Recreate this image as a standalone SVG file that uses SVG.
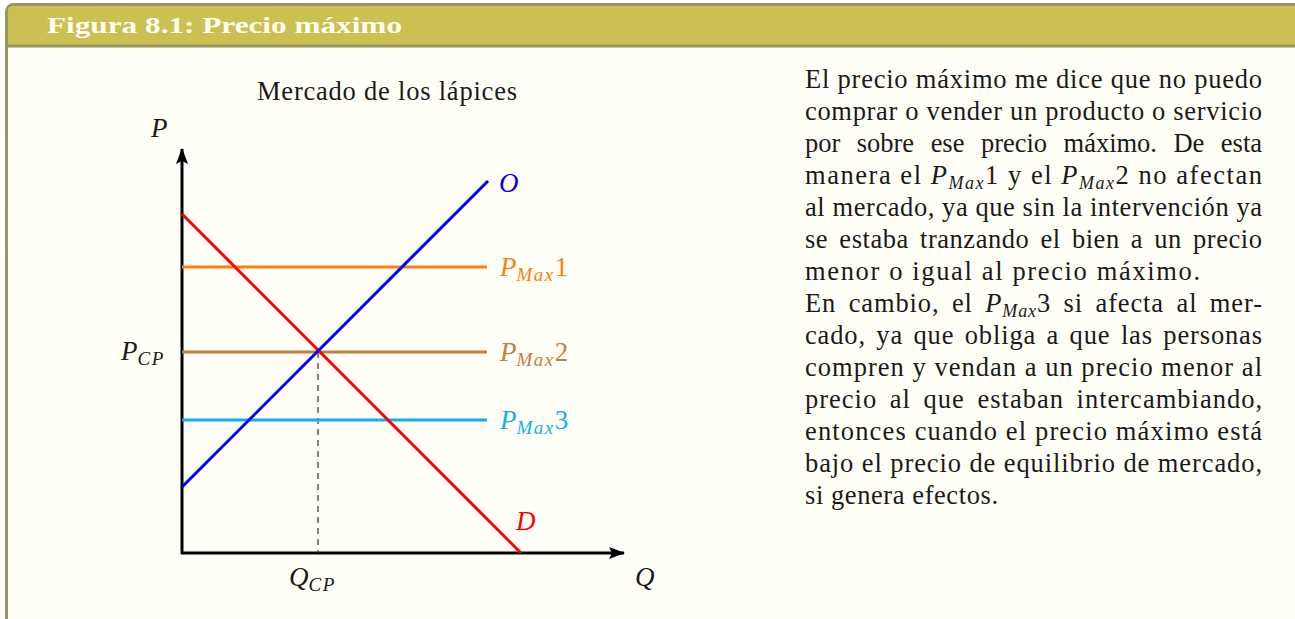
<svg xmlns="http://www.w3.org/2000/svg" width="1295" height="619" viewBox="0 0 1295 619">
<style>
.t{font-family:"Liberation Serif","DejaVu Serif",serif;font-size:26.5px;fill:#1a1a1a}
.m{font-family:"Liberation Serif","DejaVu Serif",serif;font-size:27px;font-style:italic}
.s{font-size:19px;font-style:italic;letter-spacing:1.5px}
.u{font-style:normal}
.ln{fill:none;stroke-width:3}
</style>
<defs>
<marker id="ah" viewBox="0 0 16 12" refX="15" refY="6" markerWidth="16" markerHeight="12" markerUnits="userSpaceOnUse" orient="auto">
<path d="M0,0 L16,6 L0,12 L3,6 Z" fill="#000"/>
</marker>
</defs>
<rect width="1295" height="619" fill="#ffffff"/>
<g id="frame">
<rect x="6.5" y="4.5" width="1310" height="640" rx="7" fill="#fffff7" stroke="#999561" stroke-width="3"/>
<path d="M8,46 V11 Q8,6 14,6 H1295 V46 Z" fill="#cbc052"/>
<line x1="8" y1="46" x2="1295" y2="46" stroke="#999561" stroke-width="3"/>
<text x="47" y="33" font-family="'Liberation Serif','DejaVu Serif',serif" font-size="24" font-weight="bold" fill="#fffff2" textLength="355" lengthAdjust="spacingAndGlyphs">Figura 8.1: Precio máximo</text>
</g>
<g id="title-chart">
<text class="t" x="257" y="100" textLength="260" lengthAdjust="spacing">Mercado de los lápices</text>
</g>
<g id="connectors">
<line x1="182" y1="554" x2="182" y2="149" stroke="#000" stroke-width="3" marker-end="url(#ah)"/>
<line x1="181" y1="553" x2="624" y2="553" stroke="#000" stroke-width="3" marker-end="url(#ah)"/>
<line x1="318" y1="352" x2="318" y2="553" stroke="#333" stroke-width="1.2" stroke-dasharray="6,5"/>
<line class="ln" x1="182" y1="267" x2="487" y2="267" stroke="#ff8010"/>
<line class="ln" x1="182" y1="352" x2="487" y2="352" stroke="#c08040"/>
<line class="ln" x1="182" y1="420" x2="487" y2="420" stroke="#10b0ee"/>
<line class="ln" x1="182" y1="214" x2="521" y2="553" stroke="#ff0000"/>
<line class="ln" x1="182" y1="487" x2="488" y2="181" stroke="#0000ee"/>
</g>
<g id="labels">
<text class="m" x="151" y="137" fill="#1a1a1a">P</text>
<text class="m" x="121" y="360" fill="#1a1a1a">P<tspan class="s" dy="5">CP</tspan></text>
<text class="m" x="289" y="586" fill="#1a1a1a">Q<tspan class="s" dy="5">CP</tspan></text>
<text class="m" x="635" y="586" fill="#1a1a1a">Q</text>
<text class="m" x="499" y="192" fill="#0000ee">O</text>
<text class="m" x="516" y="530" fill="#ff0000">D</text>
<text class="m" x="500" y="276" fill="#ff8010">P<tspan class="s" dy="5">Max</tspan><tspan class="u" dy="-5">1</tspan></text>
<text class="m" x="500" y="361" fill="#c08040">P<tspan class="s" dy="5">Max</tspan><tspan class="u" dy="-5">2</tspan></text>
<text class="m" x="500" y="429" fill="#10b0ee">P<tspan class="s" dy="5">Max</tspan><tspan class="u" dy="-5">3</tspan></text>
</g>
<g id="paragraph">
<text class="t" x="805" y="88" textLength="457" lengthAdjust="spacing">El precio máximo me dice que no puedo</text>
<text class="t" x="805" y="120" textLength="457" lengthAdjust="spacing">comprar o vender un producto o servicio</text>
<text class="t" x="805" y="152" word-spacing="10" textLength="457" lengthAdjust="spacing">por sobre ese precio máximo. De esta</text>
<text class="t" x="805" y="184" textLength="457" lengthAdjust="spacing">manera el <tspan font-style="italic">P</tspan><tspan font-style="italic" font-size="18" dy="5">Max</tspan><tspan dy="-5">1 y el </tspan><tspan font-style="italic">P</tspan><tspan font-style="italic" font-size="18" dy="5">Max</tspan><tspan dy="-5">2 no afectan</tspan></text>
<text class="t" x="805" y="216" textLength="457" lengthAdjust="spacing">al mercado, ya que sin la intervención ya</text>
<text class="t" x="805" y="248" word-spacing="4" textLength="457" lengthAdjust="spacing">se estaba tranzando el bien a un precio</text>
<text class="t" x="805" y="280" textLength="395" lengthAdjust="spacing">menor o igual al precio máximo.</text>
<text class="t" x="805" y="312" word-spacing="5" textLength="457" lengthAdjust="spacing">En cambio, el <tspan font-style="italic">P</tspan><tspan font-style="italic" font-size="18" dy="5">Max</tspan><tspan dy="-5">3 si afecta al mer-</tspan></text>
<text class="t" x="805" y="344" word-spacing="3" textLength="457" lengthAdjust="spacing">cado, ya que obliga a que las personas</text>
<text class="t" x="805" y="376" textLength="457" lengthAdjust="spacing">compren y vendan a un precio menor al</text>
<text class="t" x="805" y="408" word-spacing="5" textLength="457" lengthAdjust="spacing">precio al que estaban intercambiando,</text>
<text class="t" x="805" y="440" textLength="457" lengthAdjust="spacing">entonces cuando el precio máximo está</text>
<text class="t" x="805" y="472" textLength="457" lengthAdjust="spacing">bajo el precio de equilibrio de mercado,</text>
<text class="t" x="805" y="504" textLength="193" lengthAdjust="spacing">si genera efectos.</text>
</g>
</svg>
